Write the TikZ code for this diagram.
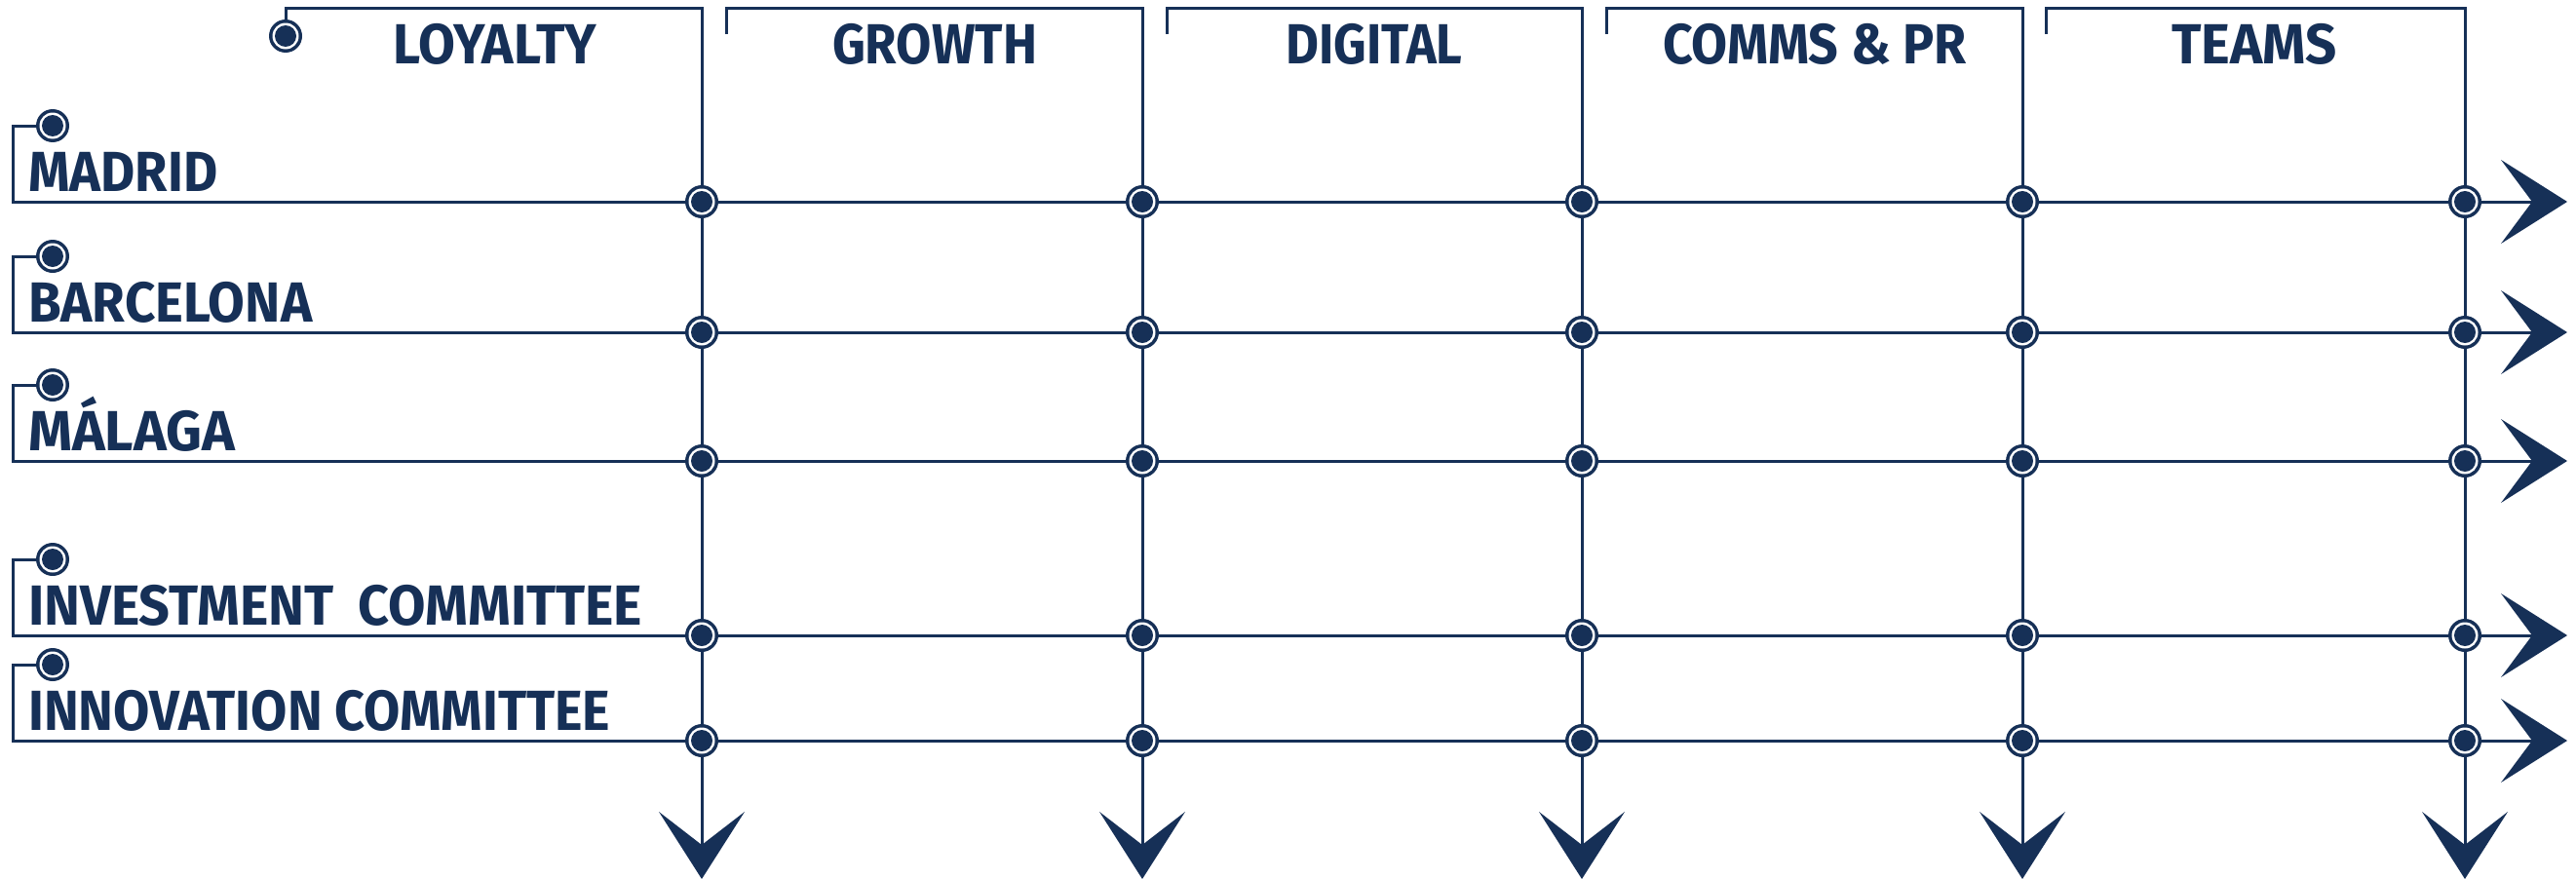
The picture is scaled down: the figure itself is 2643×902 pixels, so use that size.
\documentclass[tikz,border=0pt]{standalone}
\usepackage{fontspec}
\setmainfont{Fira Sans}
\usetikzlibrary{backgrounds}
\definecolor{navy}{HTML}{163057}
\newcommand{\fitw}[2]{\resizebox{#1}{\height}{#2}}
\begin{document}
\begin{tikzpicture}[x=1pt,y=-1pt,
  ln/.style={draw=navy, line width=3pt},
  headfill/.style={fill=navy},
  dot/.style={circle, inner sep=0pt, minimum size=34pt, fill=navy,
    path picture={\fill[white] (path picture bounding box.center) circle[radius=13.5pt];
                  \fill[navy] (path picture bounding box.center) circle[radius=11pt];}},
  lbl/.style={text=navy, inner sep=0pt, font=\fontsize{58}{60}\selectfont\bfseries},
]
\useasboundingbox (0,0) rectangle (2643,902);

% intersection dots
\foreach \c/\x in {1/720,2/1172,3/1623,4/2075,5/2529}{
  \foreach \r/\y in {1/207,2/341,3/473,4/652,5/760}{
    \node[dot] (n-\c-\r) at (\x,\y) {};
  }
  \coordinate (ct\c) at (\x,8);
  \coordinate (ce\c) at (\x,867);
}

% header bracket starts
\node[dot] (hc) at (293,37) {};
\coordinate (hu1) at (293,8);
\foreach \c/\x in {2/745,3/1197,4/1648,5/2099}{
  \coordinate (hs\c) at (\x,35);
  \coordinate (hu\c) at (\x,8);
}

% row label dots and corners
\foreach \r/\y in {1/207,2/341,3/473,4/652,5/760}{
  \pgfmathsetmacro{\yy}{\y-78}
  \node[dot] (lc\r) at (54,\yy) {};
  \coordinate (lb\r) at (13,\yy);
  \coordinate (lr\r) at (13,\y);
  \coordinate (re\r) at (2598,\y);
}

% headers
\node[lbl, anchor=base] (h1) at (508,65) {\fitw{209pt}{LOYALTY}};
\node[lbl, anchor=base] (h2) at (959,65) {\fitw{210pt}{GROWTH}};
\node[lbl, anchor=base] (h3) at (1410,65) {\fitw{181pt}{DIGITAL}};
\node[lbl, anchor=base] (h4) at (1862,65) {\fitw{312pt}{COMMS \& PR}};
\node[lbl, anchor=base] (h5) at (2313,65) {\fitw{169pt}{TEAMS}};

% row labels
\node[lbl, anchor=base west] (l1) at (29,196) {\fitw{194pt}{MADRID}};
\node[lbl, anchor=base west] (l2) at (29,330) {\fitw{291pt}{BARCELONA}};
\node[lbl, anchor=base west] (l3) at (29,462) {\fitw{212pt}{MÁLAGA}};
\node[lbl, anchor=base west] (l4) at (29,641) {\fitw{630pt}{INVESTMENT\hspace{0.45em}COMMITTEE}};
\node[lbl, anchor=base west] (l5) at (29,749) {\fitw{597pt}{INNOVATION COMMITTEE}};

\begin{pgfonlayer}{background}
  % header brackets and columns
  \draw[ln] (hc.center) -- (hu1) -- (ct1) -- (ce1);
  \foreach \c in {2,3,4,5}{
    \draw[ln] (hs\c) -- (hu\c) -- (ct\c) -- (ce\c);
  }
  % rows
  \foreach \r in {1,...,5}{
    \draw[ln] (lc\r.center) -- (lb\r) -- (lr\r) -- (re\r);
  }
\end{pgfonlayer}
% arrowheads
\foreach \c in {1,...,5}{
  \fill[headfill] (ce\c) -- ++(-44,-34) -- ++(44,69) -- ++(44,-69) -- cycle;
}
\foreach \r in {1,...,5}{
  \fill[headfill] (re\r) -- ++(-32,-43) -- ++(68,43) -- ++(-68,43) -- cycle;
}
\end{tikzpicture}
\end{document}
